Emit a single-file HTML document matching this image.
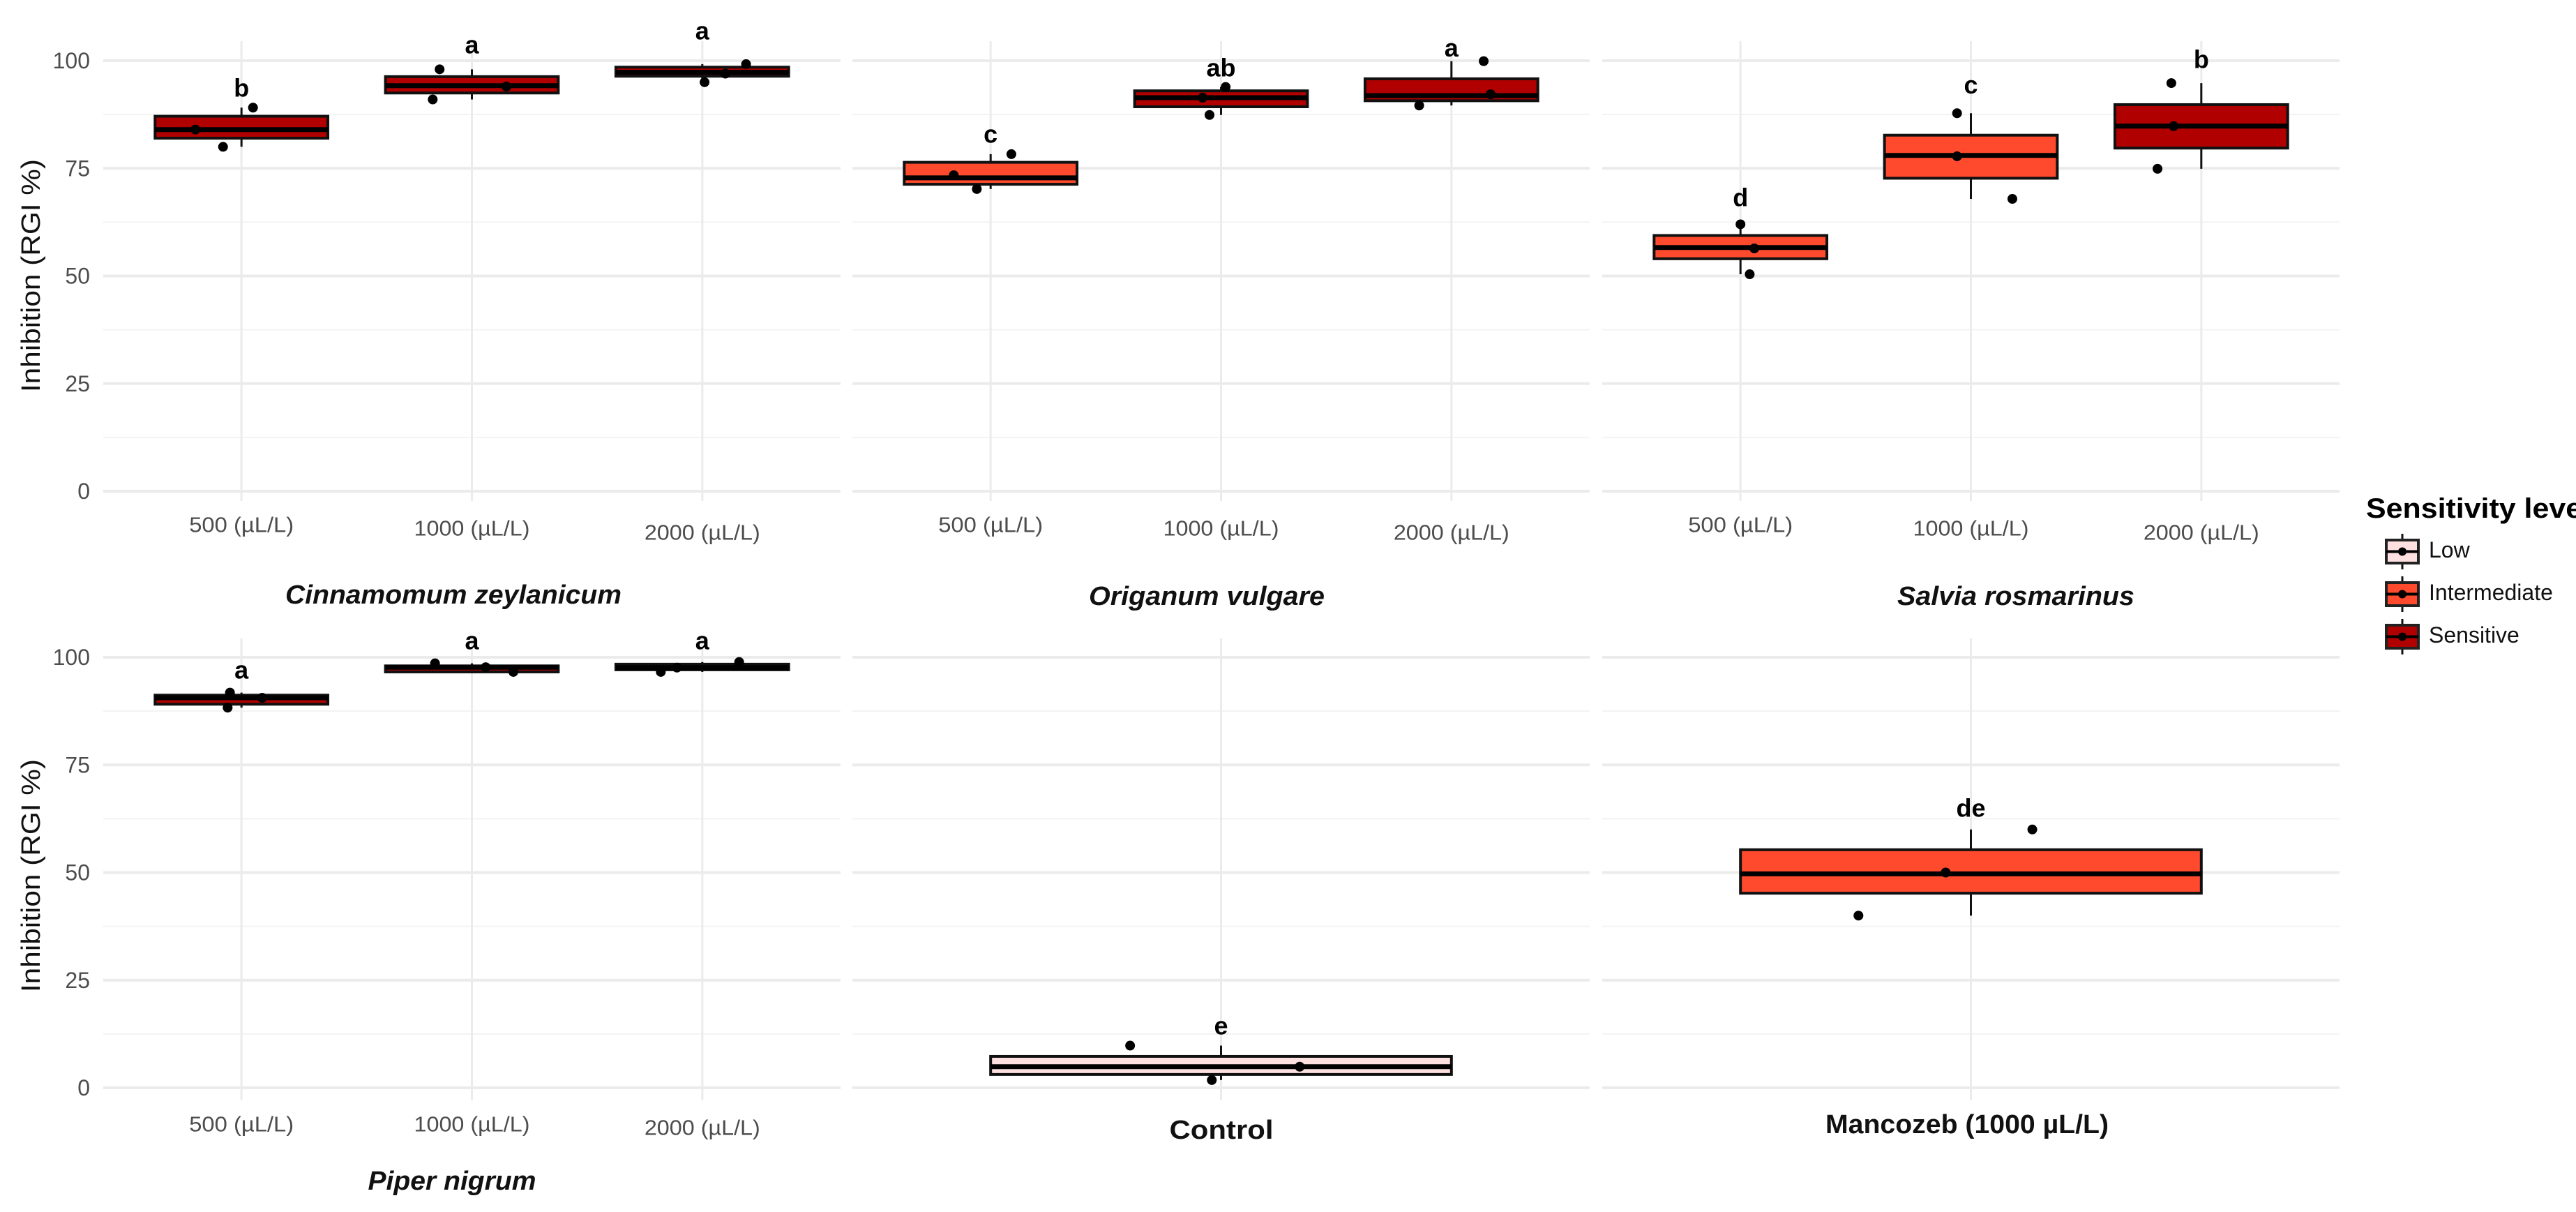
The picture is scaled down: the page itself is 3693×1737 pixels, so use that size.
<!DOCTYPE html>
<html><head><meta charset="utf-8"><title>Inhibition boxplots</title>
<style>html,body{margin:0;padding:0;background:#fff;overflow:hidden;}svg{display:block;font-family:"Liberation Sans",sans-serif;}</style>
</head><body>
<svg id="chart" width="3693" height="1737" viewBox="0 0 3693 1737" xmlns="http://www.w3.org/2000/svg"></svg>
<script>
// ---- data ----
const doseCategories = ["500 (µL/L)", "1000 (µL/L)", "2000 (µL/L)"];
const yTicks = [0, 25, 50, 75, 100];
const levelNames = ["Low", "Intermediate", "Sensitive"];
const levelColors = ["#FFE0E0", "#FF4A2E", "#B00000"];

const czQ1 = [82, 92.5, 96.4];
const czMed = [84, 94.2, 97.3];
const czQ3 = [87.1, 96.3, 98.5];
const czPts = [[84, 80, 89.1], [98, 91, 94], [99.2, 95, 97]];
const czJit = [[-0.2, -0.08, 0.05], [-0.14, -0.17, 0.15], [0.19, 0.01, 0.1]];
const czLevel = [2, 2, 2];
const czLetters = ["b", "a", "a"];
const czLetterY = [93.7, 103.7, 107];

const ogQ1 = [71.3, 89.3, 90.7];
const ogMed = [72.8, 91.4, 91.9];
const ogQ3 = [76.4, 93, 95.8];
const ogPts = [[73.4, 70.2, 78.3], [91.4, 87.4, 93.9], [92.2, 89.6, 99.9]];
const ogJit = [[-0.16, -0.06, 0.09], [-0.08, -0.05, 0.02], [0.17, -0.14, 0.14]];
const ogLevel = [1, 2, 2];
const ogLetters = ["c", "ab", "a"];
const ogLetterY = [83, 98.4, 103];

const srQ1 = [54, 72.7, 79.7];
const srMed = [56.6, 78, 84.8];
const srQ3 = [59.4, 82.7, 89.8];
const srPts = [[62, 56.4, 50.4], [87.8, 77.8, 67.9], [94.8, 84.8, 74.9]];
const srJit = [[0, 0.06, 0.04], [-0.06, -0.06, 0.18], [-0.13, -0.12, -0.19]];
const srLevel = [1, 1, 2];
const srLetters = ["d", "c", "b"];
const srLetterY = [68.2, 94.4, 100.3];

const pnQ1 = [89.1, 96.6, 97.1];
const pnMed = [90.6, 97.7, 97.6];
const pnQ3 = [91.2, 98, 98.4];
const pnPts = [[91.8, 88.3, 90.6], [98.6, 97.7, 96.6], [96.6, 97.6, 98.9]];
const pnJit = [[-0.05, -0.06, 0.09], [-0.16, 0.06, 0.18], [-0.18, -0.11, 0.16]];
const pnLevel = [2, 2, 2];
const pnLetters = ["a", "a", "a"];
const pnLetterY = [97.1, 103.9, 103.9];

const ctQ1 = [3.1];
const ctMed = [4.9];
const ctQ3 = [7.3];
const ctPts = [[9.8, 1.8, 4.9]];
const ctJit = [[-0.148, -0.015, 0.128]];
const ctLevel = [0];
const ctLetters = ["e"];
const ctLetterY = [14.4];

const mzQ1 = [45.2];
const mzMed = [49.7];
const mzQ3 = [55.3];
const mzPts = [[60, 40, 50]];
const mzJit = [[0.1, -0.183, -0.041]];
const mzLevel = [1];
const mzLetters = ["de"];
const mzLetterY = [65];

// ---- drawing ----
const svg = document.getElementById('chart');
const NS = 'http://www.w3.org/2000/svg';
function mk(tag, attrs, parent) {
  const e = document.createElementNS(NS, tag);
  for (const k in attrs) e.setAttribute(k, attrs[k]);
  (parent || svg).appendChild(e);
  return e;
}
const rows = [{zero: 704, top: 59, bottom: 718}, {zero: 1559, top: 915, bottom: 1577}];
const PXPER = 6.17;
const colX = [148, 1222, 2297];
const PW = 1057;

function drawPanel(opt) {
  const row = rows[opt.row];
  const x0 = colX[opt.col];
  const y = v => row.zero - v * PXPER;
  const n = opt.q1.length;
  const unit = PW / (n + 0.2);
  const cx = i => x0 + (i + 0.6) * unit;
  const g = mk('g', {});
  
  
  for (let v = 12.5; v < 105; v += 25) {
    const l = mk('line', {x1: x0, x2: x0 + PW, y1: y(v), y2: y(v), stroke: '#f3f3f3', 'stroke-width': 2}, g);
    
    
  }
  yTicks.forEach(v => {
    const l = mk('line', {x1: x0, x2: x0 + PW, y1: y(v), y2: y(v), stroke: '#ebebeb', 'stroke-width': 4}, g);
    
    
  });
  for (let i = 0; i < n; i++) {
    const l = mk('line', {x1: cx(i), x2: cx(i), y1: row.top, y2: row.bottom, stroke: '#ebebeb', 'stroke-width': 3}, g);
    
    
  }
  if (opt.col === 0) {
    yTicks.forEach(v => {
      const t = mk('text', {x: 129, y: y(v), 'text-anchor': 'end', 'dominant-baseline': 'central', 'font-size': 32, fill: '#4d4d4d'}, g);
      t.textContent = v;
      
      
    });
  }
  for (let i = 0; i < n; i++) {
    const hw = 0.375 * unit;
    const pts = opt.pts[i];
    const lo = Math.min(...pts), hi = Math.max(...pts);
    const bg = mk('g', {}, g);
    
    
    const w = mk('line', {x1: cx(i), x2: cx(i), y1: y(hi), y2: y(lo), stroke: '#111', 'stroke-width': 3}, bg);
    
    
    const r = mk('rect', {x: cx(i) - hw, y: y(opt.q3[i]), width: 2 * hw, height: y(opt.q1[i]) - y(opt.q3[i]), fill: levelColors[opt.level[i]], stroke: '#111', 'stroke-width': 4}, bg);
    
    
    const m = mk('line', {x1: cx(i) - hw, x2: cx(i) + hw, y1: y(opt.med[i]), y2: y(opt.med[i]), stroke: '#000', 'stroke-width': 7}, bg);
    
    
    pts.forEach((v, k) => {
      const c = mk('circle', {cx: cx(i) + opt.jit[i][k] * unit, cy: y(v), r: 7, fill: '#000'}, bg);
      
      
    });
    const lt = mk('text', {x: cx(i), y: y(opt.letterY[i]), 'text-anchor': 'middle', 'dominant-baseline': 'central', 'font-size': 36, 'font-weight': 'bold', fill: '#000'}, bg);
    lt.textContent = opt.letters[i];
    
    
  }
  if (opt.ticks) {
    const ty = opt.row === 0 ? [752, 757, 763] : [1611, 1611, 1616];
    for (let i = 0; i < n; i++) {
      const t = mk('text', {x: cx(i), y: ty[i], 'text-anchor': 'middle', 'dominant-baseline': 'central', 'font-size': 31, fill: '#4d4d4d', textLength: i === 0 ? 150 : 166, lengthAdjust: 'spacingAndGlyphs'}, g);
      t.textContent = doseCategories[i];
      
      
    }
  }
  const tt = mk('text', {x: opt.titleX, y: opt.titleY, 'text-anchor': 'middle', 'dominant-baseline': 'central', 'font-size': 38, 'font-weight': 'bold', 'font-style': opt.italic ? 'italic' : 'normal', fill: '#111', textLength: opt.titleW, lengthAdjust: 'spacingAndGlyphs'}, g);
  tt.textContent = opt.title;
  
  
}

drawPanel({name: 'cinnamomum', row: 0, col: 0, q1: czQ1, med: czMed, q3: czQ3, pts: czPts, jit: czJit, level: czLevel, letters: czLetters, letterY: czLetterY, ticks: true, title: 'Cinnamomum zeylanicum', italic: true, titleX: 650, titleY: 853, titleW: 482});
drawPanel({name: 'origanum', row: 0, col: 1, q1: ogQ1, med: ogMed, q3: ogQ3, pts: ogPts, jit: ogJit, level: ogLevel, letters: ogLetters, letterY: ogLetterY, ticks: true, title: 'Origanum vulgare', italic: true, titleX: 1730, titleY: 855, titleW: 338});
drawPanel({name: 'salvia', row: 0, col: 2, q1: srQ1, med: srMed, q3: srQ3, pts: srPts, jit: srJit, level: srLevel, letters: srLetters, letterY: srLetterY, ticks: true, title: 'Salvia rosmarinus', italic: true, titleX: 2890, titleY: 855, titleW: 340});
drawPanel({name: 'piper', row: 1, col: 0, q1: pnQ1, med: pnMed, q3: pnQ3, pts: pnPts, jit: pnJit, level: pnLevel, letters: pnLetters, letterY: pnLetterY, ticks: true, title: 'Piper nigrum', italic: true, titleX: 648, titleY: 1693, titleW: 241});
drawPanel({name: 'control', row: 1, col: 1, q1: ctQ1, med: ctMed, q3: ctQ3, pts: ctPts, jit: ctJit, level: ctLevel, letters: ctLetters, letterY: ctLetterY, ticks: false, title: 'Control', italic: false, titleX: 1751, titleY: 1620, titleW: 149});
drawPanel({name: 'mancozeb', row: 1, col: 2, q1: mzQ1, med: mzMed, q3: mzQ3, pts: mzPts, jit: mzJit, level: mzLevel, letters: mzLetters, letterY: mzLetterY, ticks: false, title: 'Mancozeb (1000 µL/L)', italic: false, titleX: 2820, titleY: 1612, titleW: 406});

[395, 1255].forEach(cy => {
  const t = mk('text', {x: 45, y: cy, transform: 'rotate(-90 45 ' + cy + ')', 'text-anchor': 'middle', 'dominant-baseline': 'central', 'font-size': 38, fill: '#111', textLength: 334, lengthAdjust: 'spacingAndGlyphs'});
  t.textContent = 'Inhibition (RGI %)';
  
  
});

// legend
const lg = mk('g', {});


const ltitle = mk('text', {x: 3392, y: 742, 'font-size': 40, 'font-weight': 'bold', fill: '#000', textLength: 322, lengthAdjust: 'spacingAndGlyphs'}, lg);
ltitle.textContent = 'Sensitivity level';


const keyTop = [774, 835, 896];
levelNames.forEach((nm, i) => {
  const eg = mk('g', {}, lg);
  
  
  const t0 = keyTop[i], kx = 3444;
  mk('line', {x1: kx, x2: kx, y1: t0 - 9, y2: t0 + 42, stroke: '#111', 'stroke-width': 3}, eg);
  mk('rect', {x: 3421, y: t0, width: 46, height: 33, fill: levelColors[i], stroke: '#222', 'stroke-width': 4}, eg);
  mk('line', {x1: 3421, x2: 3467, y1: t0 + 16.5, y2: t0 + 16.5, stroke: '#000', 'stroke-width': 4}, eg);
  mk('circle', {cx: kx, cy: t0 + 16.5, r: 6, fill: '#000'}, eg);
  const t = mk('text', {x: 3482, y: t0 + 14, 'dominant-baseline': 'central', 'font-size': 32, fill: '#111'}, eg);
  t.textContent = nm;
  
  
});
</script>
</body></html>
